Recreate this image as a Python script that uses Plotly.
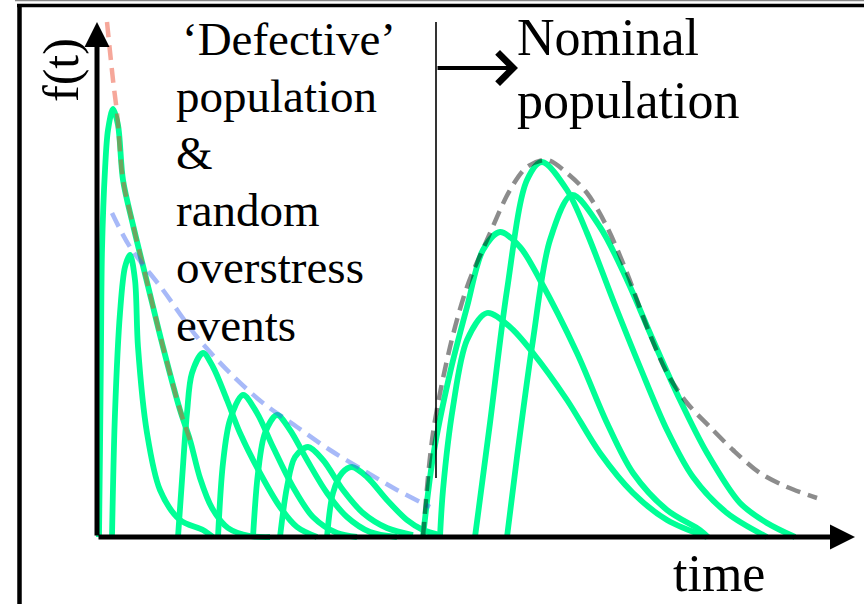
import plotly.graph_objects as go

# ---------------- data (time, f(t)) ----------------
# 'Defective' population / random overstress curves
d1_t = [2, 3, 4, 5, 8, 11, 16, 21, 26, 36, 50, 66, 83, 93, 103, 115, 131, 153, 173]
d1_f = [0, 87, 190, 287, 367, 407, 428, 412, 357, 312, 255, 190, 127, 97, 59, 29, 9, 1, 0]
d2_t = [15, 18, 23, 28, 33, 38, 41, 50, 63, 83, 106, 116]
d2_f = [0, 124, 224, 270, 282, 257, 190, 104, 47, 17, 7, 0]
d3_t = [81, 85, 90, 95, 106, 116, 130, 143, 163, 183, 200, 220]
d3_f = [0, 57, 124, 164, 184, 170, 137, 104, 64, 30, 10, 0]
d4_t = [121, 126, 133, 146, 160, 176, 196, 216, 240, 260]
d4_f = [0, 74, 117, 142, 124, 90, 50, 20, 4, 0]
d5_t = [156, 161, 168, 180, 193, 210, 230, 250, 273, 300]
d5_f = [0, 64, 104, 122, 107, 77, 44, 20, 5, 0]
d6_t = [183, 190, 198, 211, 226, 246, 266, 290, 316]
d6_f = [0, 50, 80, 90, 77, 47, 24, 9, 2]
d7_t = [230, 236, 245, 255, 270, 290, 310, 326, 343]
d7_f = [0, 44, 64, 70, 60, 37, 17, 7, 2]

# Nominal population curves
n1_t = [343, 346, 356, 370, 390, 413, 436, 470, 503, 536, 570, 610]
n1_f = [0, 47, 130, 197, 224, 210, 184, 137, 84, 44, 17, 0]
n2_t = [326, 336, 353, 370, 386, 403, 423, 443, 480, 510, 536, 570, 603, 611]
n2_f = [0, 80, 164, 230, 287, 305, 290, 257, 184, 114, 64, 27, 7, 0]
n3_t = [378, 393, 410, 430, 445, 470, 490, 516, 543, 570, 596, 630, 670]
n3_f = [0, 114, 247, 357, 375, 347, 304, 237, 170, 107, 60, 24, 0]
n4_t = [410, 420, 436, 453, 475, 503, 530, 556, 583, 610, 643, 670, 698]
n4_f = [0, 80, 197, 297, 342, 310, 257, 197, 137, 84, 34, 14, 0]

# Envelopes (dashed)
infant_t = [10, 16, 20, 26, 36, 50, 66, 83, 93]
infant_f = [515, 457, 424, 357, 312, 255, 190, 127, 97]
random_t = [15, 33, 66, 100, 133, 166, 200, 233, 266, 300, 333]
random_f = [324, 290, 247, 200, 164, 134, 110, 87, 67, 47, 30]
nominal_t = [326, 336, 353, 370, 390, 413, 430, 450, 470, 490, 510, 530,
             550, 570, 590, 613, 636, 663, 690, 720]
nominal_f = [0, 104, 190, 250, 297, 347, 370, 377, 364, 344, 310, 264,
             210, 164, 134, 110, 87, 64, 50, 39]

boundary_t = 339          # start of nominal population
t_max = 758
f_max = 515

defective = [(d1_t, d1_f), (d2_t, d2_f), (d3_t, d3_f), (d4_t, d4_f),
             (d5_t, d5_f), (d6_t, d6_f), (d7_t, d7_f)]
nominal = [(n1_t, n1_f), (n2_t, n2_f), (n3_t, n3_f), (n4_t, n4_f)]

GREEN = "#00FF96"
FONT = "Liberation Serif"

fig = go.Figure()
for t, f in defective + nominal:
    fig.add_trace(go.Scatter(x=t, y=f, mode="lines",
                             line=dict(color=GREEN, width=5.8, shape="spline", smoothing=0.9),
                             hoverinfo="skip", showlegend=False))

dash_specs = [
    (infant_t, infant_f, "rgba(235,60,30,0.45)"),
    (random_t, random_f, "rgba(60,100,240,0.45)"),
    (nominal_t, nominal_f, "rgba(0,0,0,0.45)"),
]
for t, f, c in dash_specs:
    fig.add_trace(go.Scatter(x=t, y=f, mode="lines",
                             line=dict(color=c, width=4.5, dash="15px,8px",
                                       shape="spline", smoothing=0.9),
                             hoverinfo="skip", showlegend=False))

# boundary line
fig.add_trace(go.Scatter(x=[boundary_t, boundary_t], y=[59, f_max], mode="lines",
                         line=dict(color="black", width=1.6),
                         hoverinfo="skip", showlegend=False))

ann = []
def arrow(x, y, ax, ay, head, size, width):
    ann.append(dict(x=x, y=y, ax=ax, ay=ay, xref="x", yref="y", axref="x", ayref="y",
                    text="", showarrow=True, arrowhead=head, arrowsize=size,
                    arrowwidth=width, arrowcolor="black", standoff=0, startstandoff=0))

arrow(0, f_max, 0, 0, 2, 1.0, 5)            # y axis
arrow(t_max, 0, 0, 0, 2, 1.0, 5)            # x axis
arrow(421, 469, boundary_t, 469, 4, 1.5, 4)  # nominal arrow

def text(s, x, y, size, xanchor="left", angle=0):
    ann.append(dict(x=x, y=y, xref="x", yref="y", text=s, showarrow=False,
                    xanchor=xanchor, yanchor="middle", textangle=angle, borderpad=0,
                    font=dict(family=FONT, size=size, color="black")))

left_lines = ["\u2018Defective\u2019", "population", "&", "random", "overstress", "events"]
left_f = [498, 441, 384, 327, 270, 212]
for i, (s, fy) in enumerate(zip(left_lines, left_f)):
    text(s, 84 if i == 0 else 78, fy, 47)

text("Nominal", 419, 500, 52)
text("population", 419, 437, 52)
text("f(t)", -36, 467, 50, xanchor="center", angle=-90)
text("time", 622, -36, 52, xanchor="center")

shapes = [
    dict(type="line", xref="paper", yref="paper", x0=15 / 864, x1=1, y0=1 - 0.6 / 604, y1=1 - 0.6 / 604,
         line=dict(color="#888888", width=1.5)),
    dict(type="line", xref="paper", yref="paper", x0=17 / 864, x1=1, y0=1 - 5.5 / 604, y1=1 - 5.5 / 604,
         line=dict(color="black", width=3.5)),
    dict(type="line", xref="paper", yref="paper", x0=19.5 / 864, x1=19.5 / 864, y0=0, y1=1 - 4 / 604,
         line=dict(color="black", width=4.5)),
]

fig.update_layout(
    width=864, height=604, margin=dict(l=0, r=0, t=0, b=0),
    paper_bgcolor="white", plot_bgcolor="white",
    xaxis=dict(range=[-97, 767], visible=False, fixedrange=True),
    yaxis=dict(range=[-67, 537], visible=False, fixedrange=True),
    annotations=ann, shapes=shapes, showlegend=False,
)
fig.write_html("out.html", config={"displayModeBar": False},
               post_script="document.body.style.margin='0';document.body.style.overflow='hidden';")
